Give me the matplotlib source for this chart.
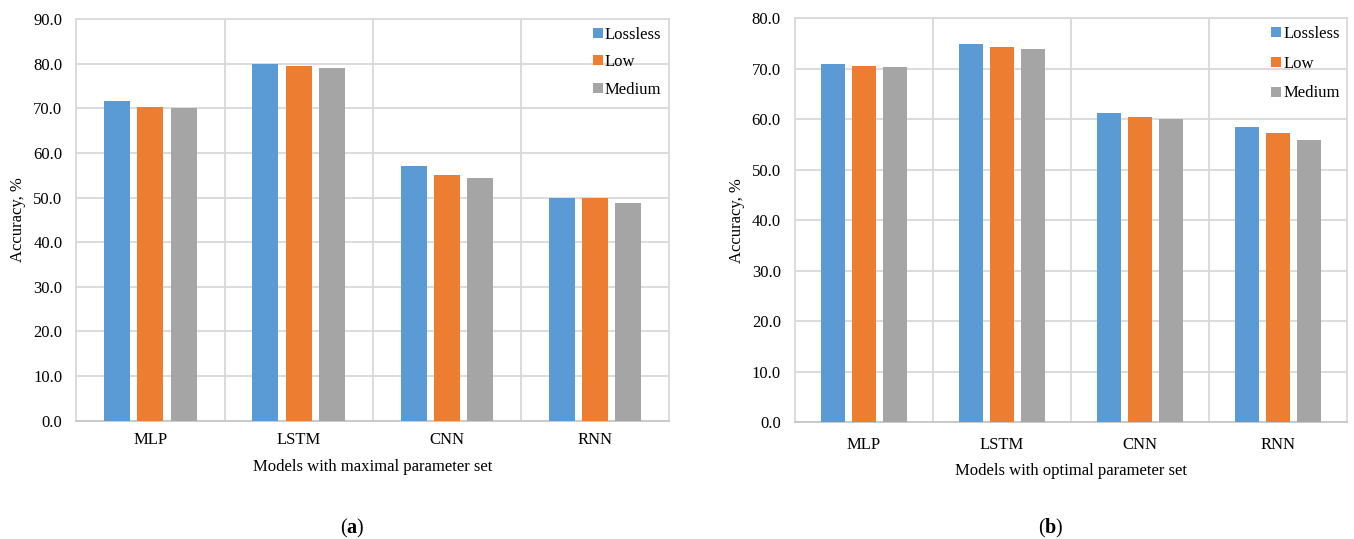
import matplotlib.pyplot as plt
import numpy as np

plt.rcParams['font.family'] = ['Liberation Serif', 'DejaVu Serif']
plt.rcParams['mathtext.fontset'] = 'custom'
plt.rcParams['mathtext.rm'] = 'Liberation Serif'
plt.rcParams['mathtext.bf'] = 'Liberation Serif:bold'

models = ['MLP', 'LSTM', 'CNN', 'RNN']
levels = ['Lossless', 'Low', 'Medium']
colors = ['#5b9bd5', '#ed7d31', '#a5a5a5']

# accuracy per level, maximal parameter set
max_lossless = [71.7, 79.9, 57.1, 50.0]
max_low = [70.2, 79.4, 55.0, 50.0]
max_medium = [70.0, 79.1, 54.4, 48.8]

# accuracy per level, optimal parameter set
opt_lossless = [70.9, 74.9, 61.2, 58.5]
opt_low = [70.6, 74.4, 60.5, 57.2]
opt_medium = [70.4, 73.9, 60.0, 55.9]

panels = [
    dict(series=[max_lossless, max_low, max_medium],
         xlabel='Models with maximal parameter set', ymax=90, tag='a',
         pos=[0.0564, 0.2195, 0.4377, 0.7452], xpad=8.5, lspace=0.7),
    dict(series=[opt_lossless, opt_low, opt_medium],
         xlabel='Models with optimal parameter set', ymax=80, tag='b',
         pos=[0.5869, 0.2165, 0.4080, 0.7495], xpad=10.5, lspace=0.83),
]

fig = plt.figure(figsize=(13.54, 5.39), dpi=100)
x = np.arange(len(models))
width = 0.175
step = 0.224
grid_col = '#d9d9d9'
fs = 12

for p in panels:
    ax = fig.add_axes(p['pos'])
    for i, (vals, lab) in enumerate(zip(p['series'], levels)):
        ax.bar(x + (i - 1) * step, vals, width, color=colors[i], label=lab, zorder=3)
    ymax = p['ymax']
    yt = np.arange(0, ymax + 1, 10)
    ax.set_xlim(-0.5, len(models) - 0.5)
    ax.set_ylim(0, ymax)
    ax.set_yticks(yt)
    ax.set_yticklabels(['%.1f' % v for v in yt], fontsize=fs)
    ax.set_xticks(x)
    ax.set_xticklabels(models, fontsize=fs)
    ax.set_xticks(np.arange(0.5, len(models) - 0.5), minor=True)
    ax.tick_params(axis='both', which='both', length=0)
    ax.tick_params(axis='y', pad=10)
    ax.tick_params(axis='x', pad=p['xpad'])
    ax.grid(axis='y', which='major', color=grid_col, lw=1.3, zorder=0)
    ax.grid(axis='x', which='minor', color=grid_col, lw=1.3, zorder=0)
    for s in ax.spines.values():
        s.set_color(grid_col)
        s.set_linewidth(1.3)
    ax.spines['bottom'].set_color('#c6c6c6')
    ax.set_xlabel(p['xlabel'], fontsize=fs, labelpad=7.5)
    ax.set_ylabel('Accuracy, %', fontsize=fs, labelpad=5)
    ax.legend(loc='upper right', frameon=False, fontsize=fs, handlelength=0.55,
              handleheight=0.55, handletextpad=0.15, labelspacing=p['lspace'],
              borderaxespad=0.15, borderpad=0.3)
    cx = p['pos'][0] + p['pos'][2] / 2 - 0.015
    fig.text(cx, 0.02, r'($\mathbf{%s}$)' % p['tag'], ha='center', va='center', fontsize=14.5)

fig.savefig('out.png', dpi=100, facecolor='white')
